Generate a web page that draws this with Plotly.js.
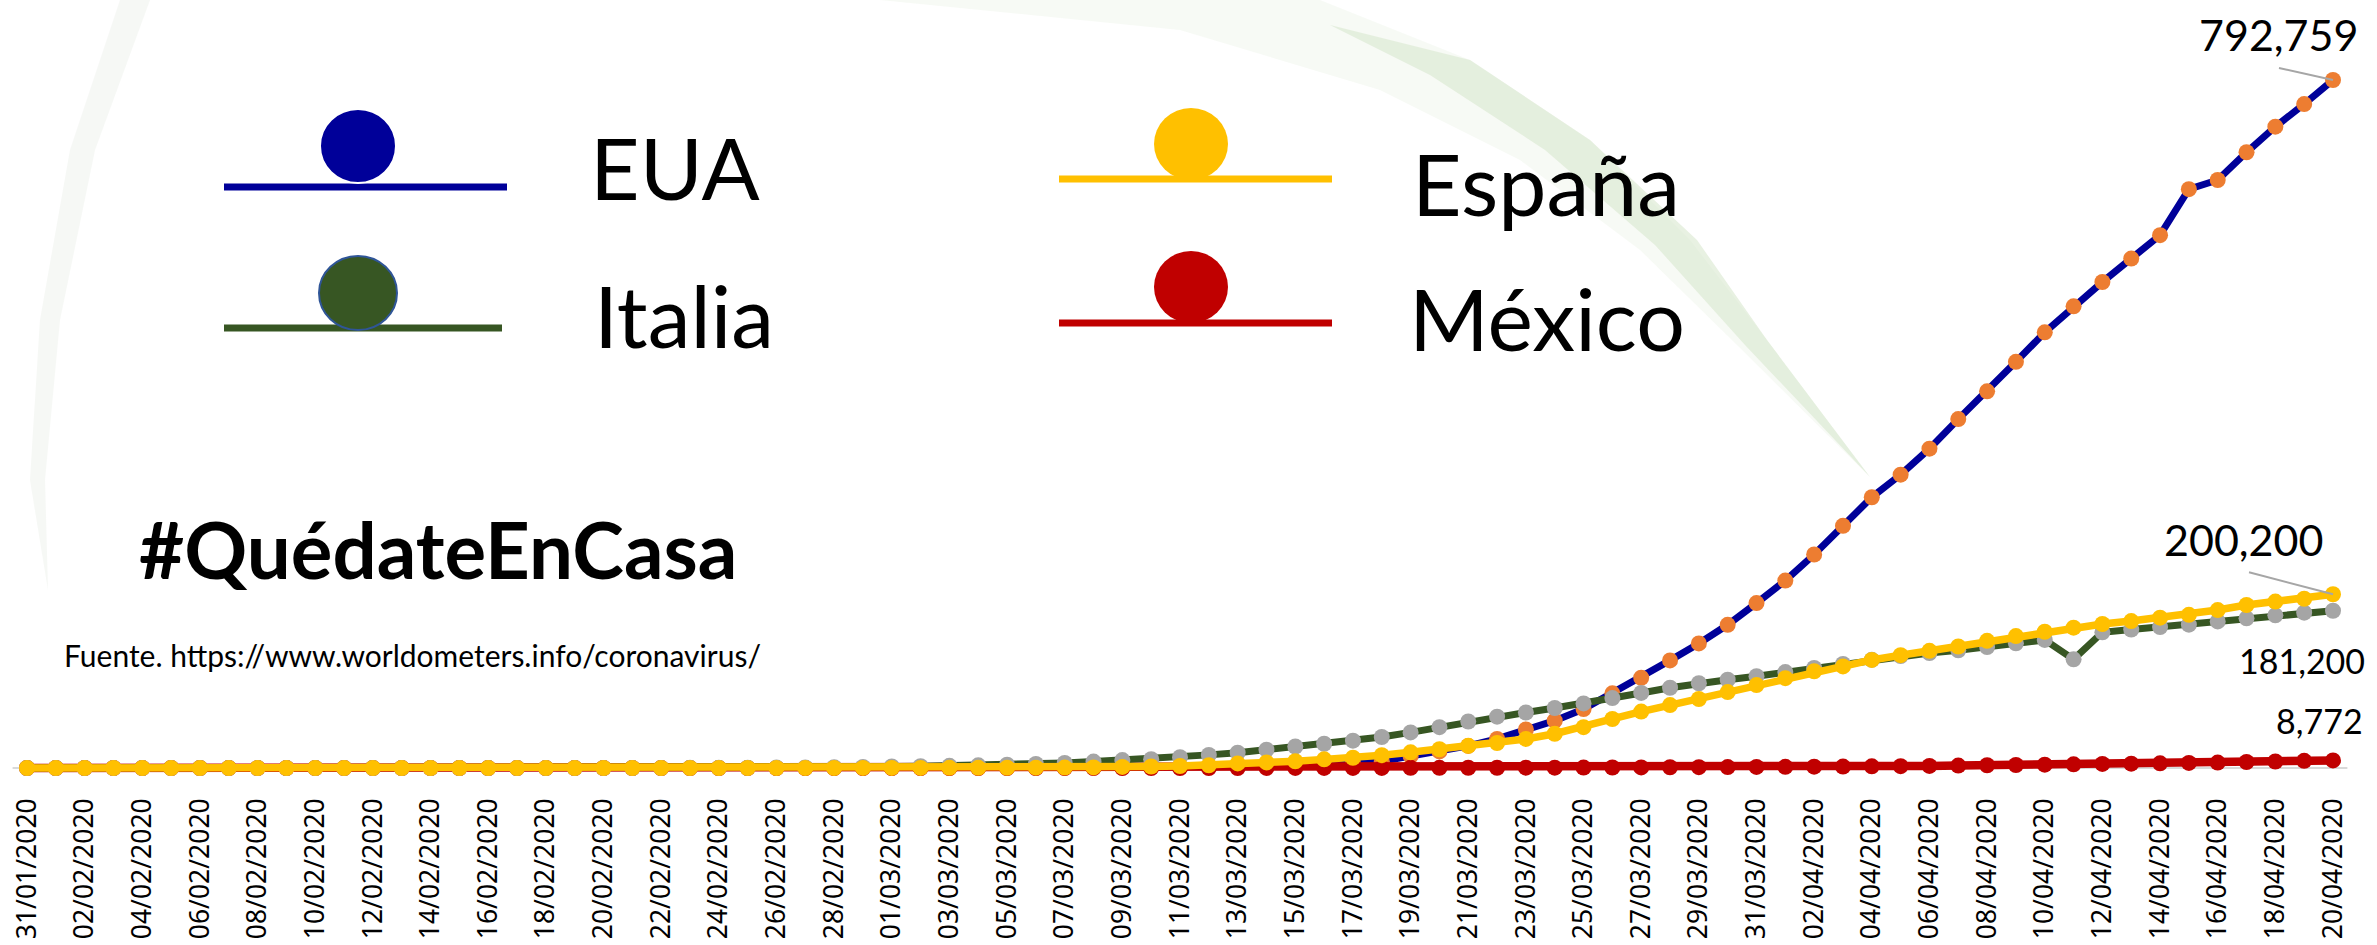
<!DOCTYPE html>
<html>
<head>
<meta charset="utf-8">
<script src="https://cdn.plot.ly/plotly-3.0.1.min.js"></script>
<style>
  html, body { margin: 0; padding: 0; background: #ffffff; }
  #chart { width: 2377px; height: 945px; }
</style>
</head>
<body>
<div id="chart"></div>
<script>
// ---------------- DATA ----------------
const dates = [
  "31/01/2020",
  "01/02/2020","02/02/2020","03/02/2020","04/02/2020","05/02/2020","06/02/2020","07/02/2020","08/02/2020","09/02/2020","10/02/2020",
  "11/02/2020","12/02/2020","13/02/2020","14/02/2020","15/02/2020","16/02/2020","17/02/2020","18/02/2020","19/02/2020","20/02/2020",
  "21/02/2020","22/02/2020","23/02/2020","24/02/2020","25/02/2020","26/02/2020","27/02/2020","28/02/2020","29/02/2020",
  "01/03/2020","02/03/2020","03/03/2020","04/03/2020","05/03/2020","06/03/2020","07/03/2020","08/03/2020","09/03/2020","10/03/2020",
  "11/03/2020","12/03/2020","13/03/2020","14/03/2020","15/03/2020","16/03/2020","17/03/2020","18/03/2020","19/03/2020","20/03/2020",
  "21/03/2020","22/03/2020","23/03/2020","24/03/2020","25/03/2020","26/03/2020","27/03/2020","28/03/2020","29/03/2020","30/03/2020","31/03/2020",
  "01/04/2020","02/04/2020","03/04/2020","04/04/2020","05/04/2020","06/04/2020","07/04/2020","08/04/2020","09/04/2020","10/04/2020",
  "11/04/2020","12/04/2020","13/04/2020","14/04/2020","15/04/2020","16/04/2020","17/04/2020","18/04/2020","19/04/2020","20/04/2020"
];

const eua = [
  7,
  8,8,11,11,12,12,12,12,12,12,13,13,14,15,15,15,15,15,15,15,15,35,35,35,53,57,60,60,68,
  74,98,118,149,217,262,402,518,583,959,1281,1663,2179,2727,3499,4632,6421,7786,13680,19101,
  25493,33500,44500,54500,68000,86000,104000,124000,143500,165000,190000,
  216000,246000,279000,312000,338000,368000,402000,434000,468000,502000,
  532000,560000,587000,614000,667000,677500,709500,739000,765000,792759
];

const espana = [
  1,
  1,1,1,1,1,1,1,1,2,2,2,2,2,2,2,2,2,2,2,2,2,2,2,2,6,13,15,32,45,
  84,120,165,228,282,401,525,674,1231,1695,2277,3146,5232,6391,7798,9942,11826,14769,18077,21571,
  25496,28768,33500,39500,47000,56500,65000,72500,79500,87500,95500,
  103500,111500,117000,124500,130000,135000,140000,146500,152000,157000,
  161700,165900,169300,173200,176500,182000,187800,191800,195000,200200
];

const italia = [
  2,
  2,2,2,2,2,3,3,3,3,3,3,3,3,3,3,3,3,3,3,3,20,79,157,229,323,470,655,889,1128,
  1694,2036,2502,3089,3858,4636,5883,7375,9172,10149,12462,15113,17660,21157,24747,27980,31506,35713,41035,47021,
  53578,59138,63927,69176,74386,80589,86498,92472,97689,101739,105792,
  110574,115242,119827,124632,128948,132547,135586,139422,143626,147577,
  125200,156363,159516,162488,165155,168941,172434,175925,178972,181200
];

const mexico = [
  0,
  0,0,0,0,0,0,0,0,0,0,0,0,0,0,0,0,0,0,0,0,0,0,0,0,0,0,0,2,4,
  5,5,5,5,5,6,6,7,7,8,12,16,26,41,53,82,93,118,164,203,
  251,316,367,405,475,585,717,848,993,1094,1215,
  1378,1510,1688,1890,2143,2439,2785,3181,3441,3844,
  4219,4661,5014,5399,5847,6297,6875,7497,8261,8772
];

const seriesNames = ["EUA", "España", "Italia", "México"];
const endLabels = ["792,759", "200,200", "181,200", "8,772"];
const hashtag = "#QuédateEnCasa";
const sourceText = "Fuente. https://www.worldometers.info/coronavirus/";

// ---------------- LAYOUT GEOMETRY ----------------
const W = 2377, H = 945;
const M = { l: 0, r: 0, t: 10, b: 153 };
const plotBottom = H - M.b;
const plotH = H - M.t - M.b;
const zeroPx = 768, topPx = 80;       // pixel rows of 0 and of the max value
const maxVal = Math.max(...eua);
const unitsPerPx = maxVal / (zeroPx - topPx);
const yRange = [-(plotBottom - zeroPx) * unitsPerPx, maxVal + (topPx - M.t) * unitsPerPx];
const firstPx = 27, lastPx = 2333;
const pxPerCat = (lastPx - firstPx) / (dates.length - 1);
const xRange = [-firstPx / pxPerCat, (dates.length - 1) + (W - lastPx) / pxPerCat];

const px = x => x / W;
const py = y => (plotBottom - y) / plotH;

const CAL = "Lato, Open Sans, Noto Sans, sans-serif";

// ---------------- TRACES ----------------
const mk = (name, y, lineColor, lineWidth, markerColor) => ({
  type: "scatter", mode: "lines+markers", name: name,
  x: dates, y: y,
  line: { color: lineColor, width: lineWidth },
  marker: { color: markerColor, size: 16, line: { width: 0 } },
  cliponaxis: false, hoverinfo: "x+y+name"
});

const traces = [
  mk(seriesNames[0], eua, "#000099", 7, "#ED7D31"),
  mk(seriesNames[3], mexico, "#C00000", 8.5, "#C00000"),
  mk(seriesNames[2], italia, "#375623", 7, "#A5A5A5"),
  mk(seriesNames[1], espana, "#FFC000", 7.5, "#FFC000")
];

const lastIdx = dates.length - 1;

// ---------------- SHAPES ----------------
function pathFrom(points) {
  return "M " + points.map(p => px(p[0]).toFixed(5) + "," + py(p[1]).toFixed(5)).join(" L ") + " Z";
}

const shapes = [
  // faint decorative swoosh (background)
  { type: "path", xref: "paper", yref: "paper", layer: "below", line: { width: 0 },
    fillcolor: "rgba(232,240,226,0.35)",
    path: pathFrom([[880,0],[1320,0],[1470,60],[1590,140],[1690,240],[1767,340],[1870,477],
                    [1737,345],[1640,250],[1520,160],[1380,90],[1180,30]]) },
  { type: "path", xref: "paper", yref: "paper", layer: "below", line: { width: 0 },
    fillcolor: "rgba(214,230,202,0.55)",
    path: pathFrom([[1330,25],[1470,60],[1590,140],[1697,240],[1767,340],[1870,477],
                    [1745,345],[1655,245],[1545,150],[1430,75]]) },
  { type: "path", xref: "paper", yref: "paper", layer: "below", line: { width: 0 },
    fillcolor: "rgba(238,241,236,0.5)",
    path: pathFrom([[150,0],[95,150],[60,320],[45,480],[48,590],[30,480],[40,320],[70,150],[120,0]]) },
  // category axis line
  { type: "line", xref: "x", yref: "y", layer: "below",
    x0: -0.5, x1: lastIdx + 0.5, y0: 0, y1: 0, line: { color: "#D9D9D9", width: 2 } },
  // leader lines for end labels
  { type: "line", xref: "x", yref: "y", layer: "above",
    x0: lastIdx - 54 / pxPerCat, y0: eua[lastIdx] + 12 * unitsPerPx,
    x1: lastIdx, y1: eua[lastIdx], line: { color: "#A6A6A6", width: 2 } },
  { type: "line", xref: "x", yref: "y", layer: "above",
    x0: lastIdx - 84 / pxPerCat, y0: espana[lastIdx] + 22 * unitsPerPx,
    x1: lastIdx, y1: espana[lastIdx], line: { color: "#A6A6A6", width: 2 } }
];

// custom legend: bar + ball
const legendItems = [
  { name: seriesNames[0], color: "#000099", x0: 224, x1: 507, ly: 187, cx: 358, cy: 146, rx: 38, ry: 37, outline: "#FFFFFF", ow: 2, tx: 588, ty: 167 },
  { name: seriesNames[2], color: "#375623", x0: 224, x1: 502, ly: 328, cx: 358, cy: 293, rx: 39, ry: 37, outline: "#2F5597", ow: 2, tx: 592, ty: 314 },
  { name: seriesNames[1], color: "#FFC000", x0: 1059, x1: 1332, ly: 179, cx: 1191, cy: 144, rx: 37, ry: 36, outline: null, ow: 0, tx: 1410, ty: 183 },
  { name: seriesNames[3], color: "#C00000", x0: 1059, x1: 1332, ly: 323, cx: 1191, cy: 287, rx: 37, ry: 36, outline: null, ow: 0, tx: 1407, ty: 317 }
];
legendItems.forEach(it => {
  shapes.push({ type: "line", xref: "paper", yref: "paper", layer: "above",
    x0: px(it.x0), x1: px(it.x1), y0: py(it.ly), y1: py(it.ly), line: { color: it.color, width: 7 } });
  shapes.push({ type: "circle", xref: "paper", yref: "paper", layer: "above",
    x0: px(it.cx - it.rx), x1: px(it.cx + it.rx), y0: py(it.cy + it.ry), y1: py(it.cy - it.ry),
    fillcolor: it.color, line: { color: it.outline || it.color, width: it.outline ? it.ow : 0 } });
});

// ---------------- ANNOTATIONS ----------------
const annotations = [];
legendItems.forEach(it => {
  annotations.push({ xref: "paper", yref: "paper", x: px(it.tx), y: py(it.ty),
    xanchor: "left", yanchor: "middle", showarrow: false, text: it.name,
    font: { family: CAL, size: 86, color: "#000000" } });
});
annotations.push({ xref: "paper", yref: "paper", x: px(137), y: py(549), xanchor: "left", yanchor: "middle",
  showarrow: false, text: "<b>" + hashtag + "</b>", font: { family: CAL, size: 78, color: "#000000" } });
annotations.push({ xref: "paper", yref: "paper", x: px(62), y: py(655), xanchor: "left", yanchor: "middle",
  showarrow: false, text: sourceText, font: { family: CAL, size: 30, color: "#000000" } });

// end value labels, anchored on the last data points
const endSpec = [
  { y: eua[lastIdx], text: endLabels[0], size: 43, dx: -55, dy: 46 },
  { y: espana[lastIdx], text: endLabels[1], size: 43, dx: -90, dy: 55 },
  { y: italia[lastIdx], text: endLabels[2], size: 34, dx: -31, dy: -50 },
  { y: mexico[lastIdx], text: endLabels[3], size: 34, dx: -14, dy: 40 }
];
endSpec.forEach(s => {
  annotations.push({ xref: "x", yref: "y", x: lastIdx, y: s.y, xanchor: "center", yanchor: "middle",
    xshift: s.dx, yshift: s.dy, showarrow: false, text: s.text,
    font: { family: CAL, size: s.size, color: "#000000" } });
});

const tickDates = dates.filter((d, i) => i % 2 === 0);

const layout = {
  width: W, height: H,
  margin: M,
  paper_bgcolor: "#FFFFFF", plot_bgcolor: "rgba(0,0,0,0)",
  showlegend: false,
  xaxis: {
    type: "category", range: xRange, showgrid: false, zeroline: false, showline: false,
    ticks: "", tickmode: "array", tickvals: tickDates, ticktext: tickDates, tickangle: -90,
    tickfont: { family: "Noto Sans, sans-serif", size: 26.5, color: "#000000" },
    fixedrange: true
  },
  yaxis: { range: yRange, visible: false, showgrid: false, zeroline: false, fixedrange: true },
  shapes: shapes,
  annotations: annotations
};

Plotly.newPlot("chart", traces, layout, { staticPlot: true, displayModeBar: false });
</script>
</body>
</html>
